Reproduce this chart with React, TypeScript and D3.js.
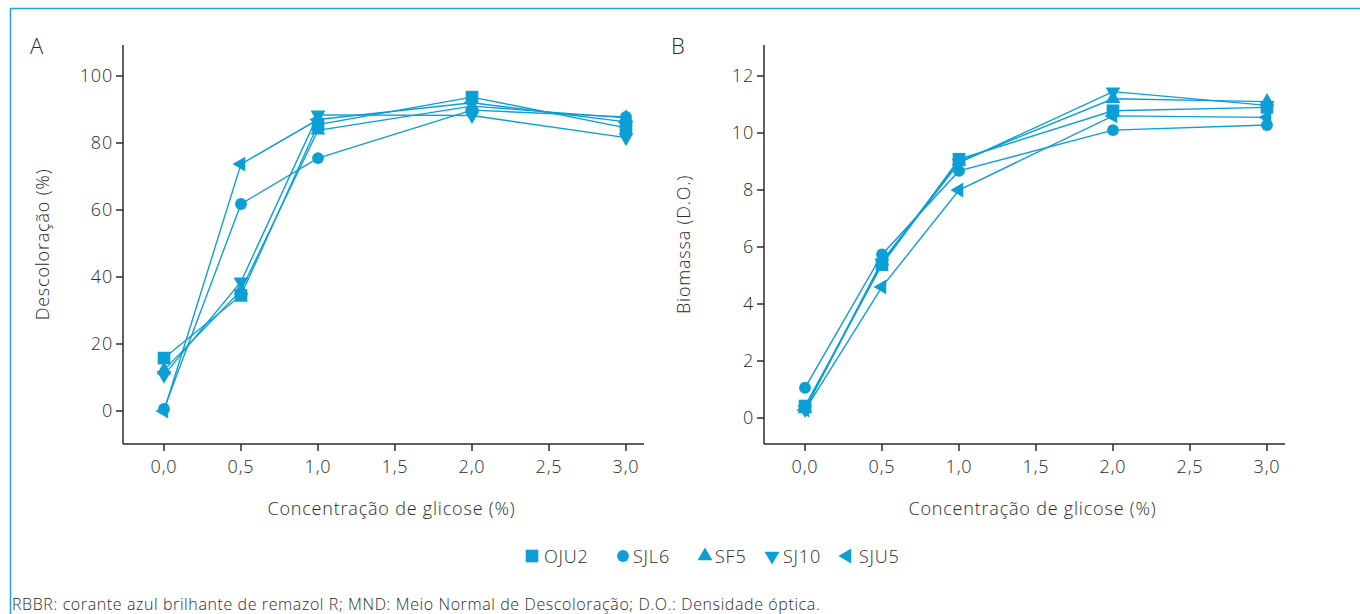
import React from "react";
import * as d3 from "d3";

// Glucose concentration (%) on the x axis
const concentrations = [0.0, 0.5, 1.0, 2.0, 3.0];
const xTicks = [0.0, 0.5, 1.0, 1.5, 2.0, 2.5, 3.0];
const strains = ["OJU2", "SJL6", "SF5", "SJ10", "SJU5"];

// Panel A: decolorization (%)
const decolOJU2 = [15.8, 34.5, 85.5, 93.7, 84.5];
const decolSJL6 = [0.6, 61.8, 75.5, 89.8, 87.8];
const decolSF5 = [12.2, 36.0, 83.8, 91.0, 87.5];
const decolSJ10 = [10.7, 38.6, 88.4, 88.2, 81.6];
const decolSJU5 = [0.0, 73.7, 87.0, 92.0, 86.3];
const decolTicks = [0, 20, 40, 60, 80, 100];

// Panel B: biomass (optical density)
const bioOJU2 = [0.42, 5.38, 9.08, 10.78, 10.9];
const bioSJL6 = [1.06, 5.74, 8.67, 10.1, 10.28];
const bioSF5 = [0.32, 5.5, 9.0, 11.2, 11.1];
const bioSJ10 = [0.3, 5.45, 8.95, 11.45, 10.97];
const bioSJU5 = [0.28, 4.6, 8.0, 10.6, 10.55];
const bioTicks = [0, 2, 4, 6, 8, 10, 12];

const COLOR = "#0c9fd6";
const INK = "#2b2b2b";
const FONT = "'Open Sans', Lato, sans-serif";
const W = 300;
const FS = 18;
const LS = 0.8;

type Shape = "square" | "circle" | "up" | "down" | "left";
const shapes: Shape[] = ["square", "circle", "up", "down", "left"];

function symbolPath(shape: Shape): { d: string; rotate: number } {
  if (shape === "square") return { d: d3.symbol(d3.symbolSquare, 160)() as string, rotate: 0 };
  if (shape === "circle") return { d: d3.symbol(d3.symbolCircle, 110)() as string, rotate: 0 };
  const tri = d3.symbol(d3.symbolTriangle, 95)() as string;
  const rotate = shape === "up" ? 0 : shape === "down" ? 180 : -90;
  return { d: tri, rotate };
}

function Marker({ shape, x, y }: { shape: Shape; x: number; y: number }) {
  const { d, rotate } = symbolPath(shape);
  return <path d={d} transform={`translate(${x},${y}) rotate(${rotate})`} fill={COLOR} />;
}

interface PanelProps {
  left: number;
  label: string;
  yTitle: string;
  yTicks: number[];
  yZero: number;
  yTop: number;
  series: number[][];
}

function Panel({ left, label, yTitle, yTicks, yZero, yTop, series }: PanelProps) {
  const axisLeft = left;
  const axisRight = left + 521;
  const axisTop = 45;
  const axisBottom = 444;
  const x = d3.scaleLinear().domain([0, 3]).range([left + 41, left + 503]);
  const y = d3.scaleLinear().domain([0, yTop]).range([yZero, 76]);
  const line = d3
    .line<number>()
    .x((_, i) => x(concentrations[i]))
    .y((v) => y(v));
  const textProps = { fontSize: FS, fill: INK, fontFamily: FONT, fontWeight: W, letterSpacing: LS };
  return (
    <g>
      <text x={left - 93} y={54} fontSize={22} fill={INK} fontFamily={FONT} fontWeight={W}>
        {label}
      </text>
      {/* axes */}
      <line x1={axisLeft} x2={axisLeft} y1={axisTop} y2={axisBottom} stroke={INK} strokeWidth={1.5} />
      <line x1={axisLeft} x2={axisRight} y1={axisBottom} y2={axisBottom} stroke={INK} strokeWidth={1.5} />
      {yTicks.map((t) => (
        <g key={t}>
          <line x1={axisLeft - 7} x2={axisLeft} y1={y(t)} y2={y(t)} stroke={INK} strokeWidth={1.5} />
          <text x={axisLeft - 10} y={y(t)} dy="0.35em" textAnchor="end" {...textProps}>
            {t}
          </text>
        </g>
      ))}
      {xTicks.map((t) => (
        <g key={t}>
          <line x1={x(t)} x2={x(t)} y1={axisBottom} y2={axisBottom + 7} stroke={INK} strokeWidth={1.5} />
          <text x={x(t)} y={axisBottom + 29} textAnchor="middle" {...textProps}>
            {t.toFixed(1).replace(".", ",")}
          </text>
        </g>
      ))}
      <text x={(axisLeft + axisRight) / 2 + 8} y={515} textAnchor="middle" {...textProps}>
        Concentração de glicose (%)
      </text>
      <text
        transform={`translate(${left - 74},${(axisTop + axisBottom) / 2}) rotate(-90)`}
        textAnchor="middle"
        {...textProps}
      >
        {yTitle}
      </text>
      {/* series lines */}
      {series.map((vals, si) => (
        <path key={`l${si}`} d={line(vals) as string} fill="none" stroke={COLOR} strokeWidth={1.4} />
      ))}
      {series.map((vals, si) =>
        vals.map((v, i) => <Marker key={`m${si}-${i}`} shape={shapes[si]} x={x(concentrations[i])} y={y(v)} />)
      )}
    </g>
  );
}

export default function App() {
  const legendX = [532, 623, 705, 772, 847];
  const legendTextX = [544, 633, 715, 783, 859];
  return (
    <svg width={1360} height={614} style={{ position: "absolute", left: 0, top: 0 }}>
      <rect width={1360} height={614} fill="#fff" />
      {/* frame */}
      <line x1={10} x2={1360} y1={8.5} y2={8.5} stroke="#1ea4dc" strokeWidth={1.5} />
      <line x1={10.5} x2={10.5} y1={8} y2={614} stroke="#1ea4dc" strokeWidth={1.5} />
      <Panel
        left={123}
        label="A"
        yTitle="Descoloração (%)"
        yTicks={decolTicks}
        yZero={411}
        yTop={100}
        series={[decolOJU2, decolSJL6, decolSF5, decolSJ10, decolSJU5]}
      />
      <Panel
        left={764}
        label="B"
        yTitle="Biomassa (D.O.)"
        yTicks={bioTicks}
        yZero={418}
        yTop={12}
        series={[bioOJU2, bioSJL6, bioSF5, bioSJ10, bioSJU5]}
      />
      {/* legend */}
      {strains.map((s, i) => (
        <g key={s}>
          <Marker shape={shapes[i]} x={legendX[i]} y={556} />
          <text
            x={legendTextX[i]}
            y={562.5}
            fontSize={FS}
            fill={INK}
            fontFamily={FONT}
            fontWeight={W}
            letterSpacing={LS}
          >
            {s}
          </text>
        </g>
      ))}
      <text x={12} y={610} fontSize={16} fill={INK} fontFamily={FONT} fontWeight={W} letterSpacing={0.6}>
        RBBR: corante azul brilhante de remazol R; MND: Meio Normal de Descoloração; D.O.: Densidade óptica.
      </text>
    </svg>
  );
}
